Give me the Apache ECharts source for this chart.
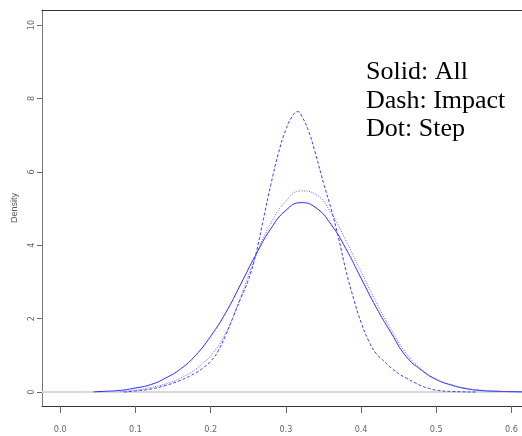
<!DOCTYPE html>
<html><head><meta charset="utf-8">
<script src="https://cdn.jsdelivr.net/npm/echarts@6/dist/echarts.min.js"></script>
<style>html,body{margin:0;padding:0;background:#fff}#c{width:522px;height:436px}</style>
</head><body><div id="c"></div>
<script>
// x ticks and y ticks
const xTicks = [0, 0.1, 0.2, 0.3, 0.4, 0.5, 0.6];
const yTicks = [0, 2, 4, 6, 8, 10];
const legendLines = ["Solid: All", "Dash: Impact", "Dot: Step"];

// Solid: All
const allX = [0.044,0.06,0.08,0.10,0.12,0.14,0.16,0.18,0.20,0.22,0.24,0.26,0.28,0.30,0.32,0.34,0.36,0.38,0.40,0.42,0.44,0.46,0.48,0.50,0.52,0.54,0.56,0.58,0.60,0.62,0.64];
const allY = [0.005,0.02,0.045,0.11,0.2,0.38,0.63,1.0,1.52,2.16,2.94,3.74,4.45,4.95,5.16,5.02,4.57,3.9,3.1,2.31,1.61,0.97,0.6,0.34,0.19,0.09,0.04,0.02,0.01,0.005,0.003];

// Dash: Impact
const impactX = [0.085,0.10,0.12,0.14,0.16,0.18,0.19,0.20,0.21,0.22,0.23,0.24,0.25,0.26,0.27,0.28,0.29,0.30,0.31,0.316,0.32,0.33,0.34,0.35,0.36,0.37,0.38,0.39,0.40,0.41,0.42,0.43,0.44,0.45,0.46,0.47,0.48,0.49,0.50,0.52,0.555];
const impactY = [0.0,0.03,0.08,0.18,0.32,0.52,0.66,0.84,1.12,1.55,2.05,2.55,3.05,3.75,4.7,5.65,6.5,7.15,7.56,7.64,7.56,7.12,6.45,5.7,5.0,4.2,3.3,2.55,1.9,1.4,1.05,0.85,0.66,0.5,0.38,0.27,0.17,0.1,0.05,0.015,0.0];

// Dot: Step
const stepX = [0.08,0.10,0.12,0.14,0.16,0.18,0.19,0.20,0.22,0.24,0.26,0.28,0.30,0.32,0.34,0.36,0.38,0.40,0.42,0.44,0.46,0.48,0.50,0.52,0.54,0.56,0.58,0.60,0.62,0.64];
const stepY = [0.01,0.05,0.12,0.22,0.38,0.62,0.8,0.98,1.6,2.6,3.7,4.6,5.2,5.48,5.38,4.88,4.12,3.28,2.45,1.7,1.06,0.63,0.35,0.2,0.1,0.05,0.025,0.012,0.006,0.003];

const zip = (xs, ys) => xs.map((x, i) => [x, ys[i]]);
const XMIN = -0.0243, XMAX = 0.614, YMIN = -0.381, YMAX = 10.41;
const tickFont = {color:'#666', fontSize:9, fontFamily:'"Liberation Sans Narrow","DejaVu Sans Condensed","Liberation Sans",sans-serif'};
const chart = echarts.init(document.getElementById('c'), null, {renderer:'canvas'});
chart.setOption({
  animation:false,
  backgroundColor:'#fff',
  title:{
    text: legendLines.join('\n'),
    left:366, top:58, padding:0,
    textStyle:{fontFamily:'"Liberation Serif","Times New Roman",serif', fontWeight:'normal', fontSize:26, lineHeight:28.5, color:'#000'}
  },
  grid:{left:42, right:0, top:10, bottom:30},
  xAxis:[{
    type:'value', min:XMIN, max:XMAX, position:'bottom',
    axisLine:{show:true, onZero:false, lineStyle:{color:'#333', width:1}},
    axisTick:{show:true, length:7, customValues:xTicks, lineStyle:{color:'#666'}},
    axisLabel:{show:true, customValues:xTicks, margin:19, formatter:v=>v.toFixed(1), ...tickFont},
    splitLine:{show:false}
  },{
    type:'value', min:XMIN, max:XMAX, position:'top',
    axisLine:{show:true, onZero:false, lineStyle:{color:'#333', width:1}},
    axisTick:{show:false}, axisLabel:{show:false}, splitLine:{show:false}
  }],
  yAxis:{
    type:'value', min:YMIN, max:YMAX,
    name:'Density', nameLocation:'middle', nameGap:22, nameRotate:90,
    nameTextStyle:{color:'#555', fontSize:9, fontFamily:'"Liberation Sans",sans-serif'},
    axisLine:{show:true, onZero:false, lineStyle:{color:'#777', width:1}},
    axisTick:{show:true, length:5, customValues:yTicks, lineStyle:{color:'#666'}},
    axisLabel:{show:true, customValues:yTicks, rotate:90, margin:6, ...tickFont},
    splitLine:{show:false}
  },
  series:[
    {type:'line', name:'All', data:zip(allX, allY), showSymbol:false, smooth:true, z:3,
     lineStyle:{color:'#2a2aff', width:1, type:'solid'},
     markLine:{silent:true, symbol:'none', label:{show:false}, z:1,
       lineStyle:{color:'#d9d9d9', width:2, type:'solid'}, data:[{yAxis:0}]}},
    {type:'line', name:'Impact', data:zip(impactX, impactY), showSymbol:false, smooth:true, z:3,
     lineStyle:{color:'#3a3aff', width:1, type:[3,2]}},
    {type:'line', name:'Step', data:zip(stepX, stepY), showSymbol:false, smooth:true, z:3,
     lineStyle:{color:'#5a5aff', width:1, type:[1,1.5]}}
  ]
});
</script></body></html>
